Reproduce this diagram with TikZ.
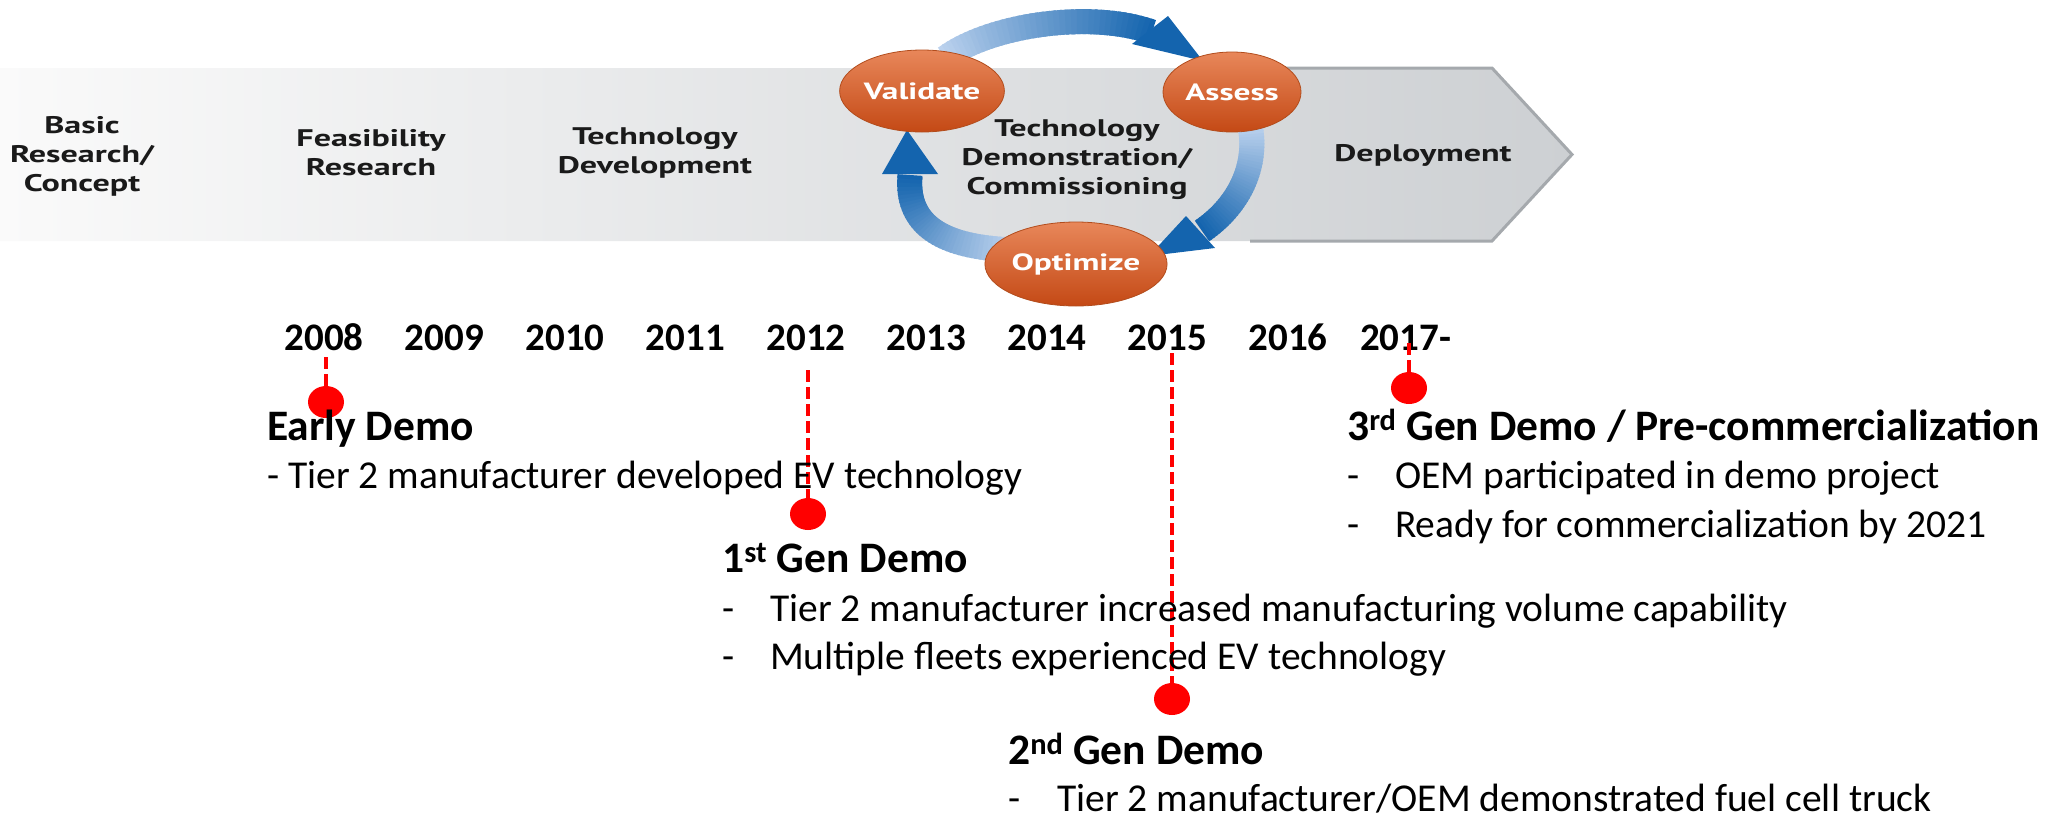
\documentclass[tikz,border=0pt]{standalone}
\usepackage{fontspec}
\setmainfont{Carlito}
\newfontfamily\stagefont[FakeStretch=1.42]{PT Sans}
\usetikzlibrary{shapes.geometric}
\definecolor{arrlight}{HTML}{BCD2EE}
\definecolor{arrdark}{HTML}{1464AE}
\definecolor{balltop}{HTML}{E8875A}
\definecolor{ballbot}{HTML}{C44915}
\definecolor{ballline}{HTML}{B24C1C}
\definecolor{bandleft}{HTML}{FAFAFA}
\definecolor{bandright}{HTML}{CDD0D3}
\definecolor{bandline}{HTML}{A5A9AD}
\definecolor{dotred}{HTML}{FF0000}
\definecolor{stagetext}{HTML}{1A1A1A}
\newcommand\myGradArc[4]{%
  \foreach \i in {0,...,39}{%
    \pgfmathsetmacro\ta{\i/40}%
    \pgfmathsetmacro\tb{min(1,(\i+1.6)/40)}%
    \pgfmathtruncatemacro\cc{round(100*\i/39)}%
    \path #1 .. controls #2 and #3 .. #4 coordinate[pos=\ta] (ga) coordinate[pos=\tb] (gb);
    \draw[line width=25pt, arrdark!\cc!arrlight] (ga) -- (gb);
  }}
\newcommand\hd[1]{{\fontsize{43.5}{48}\selectfont\bfseries #1}}
\begin{document}
\begin{tikzpicture}[x=1pt,y=-1pt,
  stagelbl/.style={font=\stagefont\bfseries\fontsize{24}{29}\selectfont, align=center, text=stagetext, inner sep=0},
  ballnode/.style={ellipse, top color=balltop, bottom color=ballbot, draw=ballline, line width=0.8pt, inner sep=0, text=white, font=\stagefont\bfseries\fontsize{23.5}{29}\selectfont},
  yearlbl/.style={font=\bfseries\fontsize{39}{45}\selectfont, anchor=base, inner sep=0},
  reddot/.style={ellipse, fill=dotred, minimum width=36, minimum height=32, inner sep=0},
  reddash/.style={draw=dotred, line width=4pt, dash pattern=on 12pt off 5pt},
  infotext/.style={font=\fontsize{39.5}{48}\selectfont, anchor=base west, inner sep=0},
  headfill/.style={fill=arrdark}
]
\useasboundingbox (0,0) rectangle (2046,817);
% band
\path[left color=bandleft, right color=bandright] (0,68) -- (1492,68) -- (1572,154.5) -- (1492,241) -- (0,241) -- cycle;
\draw[bandline, line width=3pt, line join=miter] (1250,68) -- (1492,68) -- (1572,154.5) -- (1492,241) -- (1250,241);
% stage labels
\node[stagelbl] (basic) at (82,156) {Basic\\Research/\\Concept};
\node[stagelbl] (feas) at (371,153) {Feasibility\\Research};
\node[stagelbl] (tdev) at (655,153) {Technology\\Development};
\node[stagelbl] (tdemo) at (1077,160) {Technology\\Demonstration/\\Commissioning};
\node[stagelbl, anchor=base] (depl) at (1423,161) {Deployment};
% cycle arrows
\myGradArc{(945,58)}{(990,25)}{(1090,10)}{(1152,32)}
\myGradArc{(1250,125)}{(1258,165)}{(1240,205)}{(1202,231)}
\myGradArc{(1015,250)}{(950,248)}{(905,230)}{(910,175)}
\coordinate (h1t) at (1203,61); \coordinate (h1a) at (1168,16); \coordinate (h1b) at (1132,44);
\coordinate (h2t) at (1149,256); \coordinate (h2a) at (1186,216); \coordinate (h2b) at (1215,248);
\coordinate (h3t) at (907,130); \coordinate (h3a) at (882,174); \coordinate (h3b) at (938,174);
\fill[headfill] (h1t) -- (h1a) -- (h1b) -- cycle;
\fill[headfill] (h2t) -- (h2a) -- (h2b) -- cycle;
\fill[headfill] (h3t) -- (h3a) -- (h3b) -- cycle;
% balls
\node[ballnode, minimum width=138, minimum height=82] (val) at (922,91) {Validate};
\node[ballnode, minimum width=138, minimum height=80] (ass) at (1232,92) {Assess};
\node[ballnode, minimum width=155, minimum height=84] (opt) at (1076,264) {Optimize};
% years
\foreach \yr [count=\i from 0] in {2008,2009,2010,2011,2012,2013,2014,2015,2016}
  \node[yearlbl] (y\yr) at ({324+120.5*\i},350) {\yr};
\node[yearlbl, anchor=base west] (y2017) at (1360,350) {2017-};
% markers
\coordinate (m0) at (326,357); \node[reddot] (d0) at (326,402) {};
\coordinate (m1) at (808,370); \node[reddot] (d1) at (808,514) {};
\coordinate (m2) at (1172,353); \node[reddot] (d2) at (1172,699) {};
\coordinate (m3) at (1409,343); \node[reddot] (d3) at (1409,388) {};
\draw[reddash] (m0) -- (d0);
\draw[reddash] (m1) -- (d1);
\draw[reddash] (m2) -- (d2);
\draw[reddash] (m3) -- (d3);
% texts
\node[infotext] (early) at (267,440) {\begin{tabular}[t]{@{}l@{}}\hd{Early Demo}\\ - Tier 2 manufacturer developed EV technology\end{tabular}};
\node[infotext] (gen1) at (722,572) {\begin{tabular}[t]{@{}p{48pt}@{}l@{}}\multicolumn{2}{@{}l@{}}{\hd{1\textsuperscript{st} Gen Demo}}\\[1pt] - & Tier 2 manufacturer increased manufacturing volume capability\\ - & Multiple fleets experienced EV technology\end{tabular}};
\node[infotext] (gen2) at (1008,764) {\begin{tabular}[t]{@{}p{49pt}@{}l@{}}\multicolumn{2}{@{}l@{}}{\hd{2\textsuperscript{nd} Gen Demo}}\\[-1pt] - & Tier 2 manufacturer/OEM demonstrated fuel cell truck\end{tabular}};
\node[infotext] (gen3) at (1347,440) {\begin{tabular}[t]{@{}p{48pt}@{}l@{}}\multicolumn{2}{@{}l@{}}{\hd{3\textsuperscript{rd} Gen Demo / Pre-commercialization}}\\ - & OEM participated in demo project\\[1pt] - & Ready for commercialization by 2021\end{tabular}};
\end{tikzpicture}
\end{document}
